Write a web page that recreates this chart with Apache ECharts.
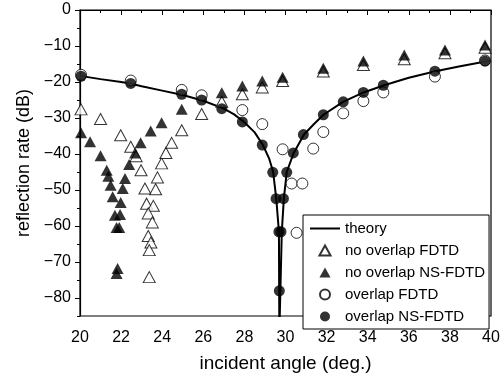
<!DOCTYPE html>
<html>
<head>
<meta charset="utf-8">
<script src="https://cdn.jsdelivr.net/npm/echarts@6/dist/echarts.min.js"></script>
<style>
  html, body { margin: 0; padding: 0; background: #fff; }
  #main { width: 503px; height: 381px; }
</style>
</head>
<body>
<div id="main"></div>
<script>
// theory curve
var theoryX = [20, 21, 22, 22.5, 23, 24, 25, 26, 27, 27.5, 28, 28.5, 28.9, 29.2, 29.4, 29.55, 29.68, 29.70, 29.72, 29.82, 29.92, 30.06, 30.4, 30.9, 31.4, 31.85, 32.8, 33.8, 34.8, 36, 37.3, 38.5, 40];
var theoryY = [-18.3, -19.2, -20.0, -20.5, -21.2, -22.4, -23.6, -25.2, -27.4, -29.0, -31.2, -34.0, -37.5, -41.2, -45.0, -52.4, -61.6, -90, -90, -61.6, -52.4, -45.0, -39.7, -34.6, -31.6, -29.1, -25.5, -22.9, -20.9, -18.8, -17.0, -15.6, -14.0];

// no overlap FDTD (open triangles)
var noFdtdX = [20.05, 21.0, 21.98, 22.47, 22.73, 22.97, 23.77, 23.16, 23.68, 23.24, 23.57, 23.32, 23.52, 23.32, 23.45, 23.37, 23.37, 23.97, 24.18, 24.46, 24.95, 25.92, 26.9, 27.9, 28.87, 29.86, 31.84, 33.79, 35.78, 37.76, 39.71];
var noFdtdY = [-27.6, -30.3, -34.8, -38.0, -40.6, -44.5, -46.5, -49.6, -49.8, -53.8, -54.4, -56.5, -59.0, -62.8, -64.6, -66.7, -74.2, -42.6, -39.7, -36.9, -33.4, -28.9, -25.5, -23.4, -21.5, -19.7, -17.1, -15.3, -13.7, -12.0, -10.5];

// no overlap NS-FDTD (filled triangles)
var noNsX = [20.05, 20.49, 21.0, 21.3, 21.38, 21.49, 21.59, 21.7, 21.95, 21.78, 21.91, 21.83, 21.78, 21.98, 22.08, 22.19, 22.39, 22.68, 22.95, 23.44, 23.97, 24.95, 26.9, 27.9, 28.87, 29.86, 31.84, 33.79, 35.78, 37.76, 39.71];
var noNsY = [-34.1, -36.6, -40.5, -44.5, -46.2, -48.7, -51.9, -57.0, -56.8, -60.4, -60.4, -71.8, -73.2, -53.5, -49.6, -46.8, -42.9, -39.7, -36.9, -33.6, -31.3, -27.6, -23.0, -21.1, -19.7, -18.7, -16.2, -14.2, -12.5, -11.1, -9.7];

// overlap FDTD (open circles)
var ovFdtdX = [20.05, 22.47, 24.95, 25.92, 27.9, 28.87, 29.86, 30.3, 30.82, 30.54, 31.35, 31.84, 32.81, 33.79, 34.76, 37.27, 39.71];
var ovFdtdY = [-18.0, -19.6, -22.2, -23.7, -27.8, -31.7, -38.7, -48.2, -48.2, -61.9, -38.5, -33.9, -28.7, -25.3, -22.9, -18.5, -14.0];

// overlap NS-FDTD (filled circles)
var ovNsX = [20.05, 22.47, 24.95, 25.92, 26.9, 27.9, 28.87, 29.38, 29.54, 29.68, 29.78, 29.7, 29.9, 30.06, 30.38, 30.87, 31.84, 32.81, 33.79, 34.76, 37.27, 39.71];
var ovNsY = [-18.4, -20.4, -23.4, -25.0, -27.4, -31.1, -37.5, -45.1, -52.4, -61.6, -61.6, -78.0, -52.4, -45.1, -39.7, -34.6, -29.1, -25.5, -22.9, -20.9, -17.0, -14.2];

var yMajor = [0, -10, -20, -30, -40, -50, -60, -70, -80];
var yMinor = [-5, -15, -25, -35, -45, -55, -65, -75, -85];

function pairs(xs, ys) {
  return xs.map(function (x, i) { return [x, ys[i]]; });
}

var font = 'Liberation Sans';
var triIcon = 'path://M5,0L10,9L0,9Z';
var lineIcon = 'path://M0,0L30,0L30,2L0,2Z';
var chart = echarts.init(document.getElementById('main'));

var option = {
  animation: false,
  backgroundColor: '#fff',
  textStyle: { fontFamily: font, color: '#000' },
  grid: {
    left: 80, right: 12, top: 10, bottom: 65,
    show: true, borderColor: '#000', borderWidth: 1.2, backgroundColor: 'transparent'
  },
  legend: {
    orient: 'vertical',
    left: 303, top: 215,
    padding: [6, 4, 5, 7],
    itemWidth: 30, itemHeight: 10, itemGap: 7,
    borderColor: '#000', borderWidth: 1, backgroundColor: '#fff',
    textStyle: { fontFamily: font, fontSize: 15, color: '#000', lineHeight: 10 },
    data: [
      { name: 'theory', icon: lineIcon },
      { name: 'no overlap FDTD', icon: triIcon },
      { name: 'no overlap NS-FDTD', icon: triIcon },
      { name: 'overlap FDTD', icon: 'circle' },
      { name: 'overlap NS-FDTD', icon: 'circle' }
    ]
  },
  xAxis: {
    type: 'value', min: 20, max: 40, interval: 2,
    name: 'incident angle (deg.)', nameLocation: 'middle', nameGap: 38,
    nameTextStyle: { fontFamily: font, fontSize: 19, color: '#000' },
    axisLine: { lineStyle: { color: '#000', width: 1.2 } },
    axisTick: { show: true, inside: false, length: 5, lineStyle: { color: '#000' } },
    minorTick: { show: true, splitNumber: 2, length: 3, lineStyle: { color: '#000' } },
    axisLabel: { fontFamily: font, fontSize: 16, color: '#000', margin: 14 },
    splitLine: { show: false }
  },
  yAxis: [{
    type: 'value', min: -85, max: 0,
    name: 'reflection rate (dB)', nameLocation: 'middle', nameGap: 41,
    nameTextStyle: { fontFamily: font, fontSize: 18, color: '#000' },
    axisLine: { show: true, lineStyle: { color: '#000', width: 1.2 } },
    axisTick: { show: true, length: 5, customValues: yMajor, lineStyle: { color: '#000' } },
    axisLabel: {
      fontFamily: font, fontSize: 16, color: '#000', margin: 9, customValues: yMajor,
      formatter: function (v) { return String(v).replace('-', '\u2212'); }
    },
    splitLine: { show: false }
  }, {
    type: 'value', min: -85, max: 0, position: 'left',
    axisLine: { show: false },
    axisTick: { show: true, length: 3, customValues: yMinor, lineStyle: { color: '#000' } },
    axisLabel: { show: false },
    splitLine: { show: false }
  }],
  series: [{
    name: 'theory', type: 'line', symbol: 'none', smooth: false,
    lineStyle: { color: '#000', width: 2 },
    itemStyle: { color: '#000' },
    data: pairs(theoryX, theoryY), z: 1
  }, {
    name: 'no overlap FDTD', type: 'scatter', symbol: 'triangle', symbolSize: [12, 11],
    itemStyle: { color: '#fff', borderColor: '#000', borderWidth: 1 },
    data: pairs(noFdtdX, noFdtdY), z: 2
  }, {
    name: 'no overlap NS-FDTD', type: 'scatter', symbol: 'triangle', symbolSize: [12, 11],
    itemStyle: { color: '#000', borderColor: '#000', borderWidth: 0 },
    data: pairs(noNsX, noNsY), z: 3
  }, {
    name: 'overlap FDTD', type: 'scatter', symbol: 'circle', symbolSize: 11,
    itemStyle: { color: '#fff', borderColor: '#000', borderWidth: 1 },
    data: pairs(ovFdtdX, ovFdtdY), z: 4
  }, {
    name: 'overlap NS-FDTD', type: 'scatter', symbol: 'circle', symbolSize: 11,
    itemStyle: { color: '#000', borderColor: '#000', borderWidth: 0 },
    data: pairs(ovNsX, ovNsY), z: 5
  }]
};

chart.setOption(option);
</script>
</body>
</html>
